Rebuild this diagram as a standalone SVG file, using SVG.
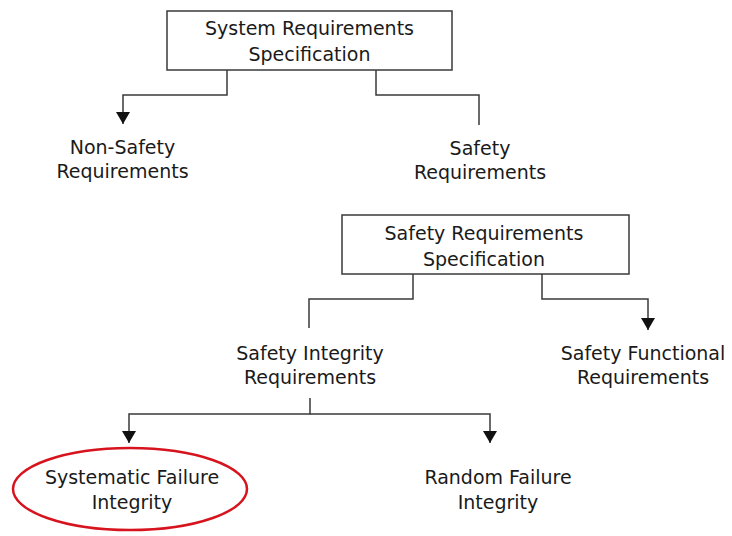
<svg xmlns="http://www.w3.org/2000/svg" width="732" height="536" viewBox="0 0 732 536">
  <style>
    .box { fill: #ffffff; stroke: #3a3a3a; stroke-width: 1.5; }
    .conn { fill: none; stroke: #3a3a3a; stroke-width: 1.5; }
    .lbl { font-family: "DejaVu Sans", "Liberation Sans", sans-serif; font-size: 19px; fill: #1a1a1a; text-anchor: middle; }
    .hl { fill: none; stroke: #d7141e; stroke-width: 2.5; }
  </style>
  <defs>
    <marker id="arrow" viewBox="0 0 12 14" refX="12" refY="7" markerWidth="12" markerHeight="14" markerUnits="userSpaceOnUse" orient="auto">
      <path d="M0,0 L12,7 L0,14 z" fill="#111111"/>
    </marker>
  </defs>
  <rect width="732" height="536" fill="#ffffff"/>

  <g id="connectors">
    <path class="conn" d="M227,70 V95 H123 V124" marker-end="url(#arrow)"/>
    <path class="conn" d="M376,70 V95 H479 V125"/>
    <path class="conn" d="M413,274 V299 H309 V328"/>
    <path class="conn" d="M542,274 V299 H648 V330" marker-end="url(#arrow)"/>
    <path class="conn" d="M310,398 V414 H129 V443" marker-end="url(#arrow)"/>
    <path class="conn" d="M310,414 H490 V443" marker-end="url(#arrow)"/>
  </g>

  <g id="system-requirements-specification">
    <rect class="box" x="167" y="11" width="285" height="59"/>
    <text class="lbl" x="309.5" y="35">System Requirements</text>
    <text class="lbl" x="309.5" y="61">Specification</text>
  </g>

  <g id="non-safety-requirements">
    <text class="lbl" x="122.5" y="154">Non-Safety</text>
    <text class="lbl" x="122.5" y="178">Requirements</text>
  </g>

  <g id="safety-requirements">
    <text class="lbl" x="480" y="155">Safety</text>
    <text class="lbl" x="480" y="179">Requirements</text>
  </g>

  <g id="safety-requirements-specification">
    <rect class="box" x="342" y="215" width="287" height="59"/>
    <text class="lbl" x="484" y="240">Safety Requirements</text>
    <text class="lbl" x="484" y="266">Specification</text>
  </g>

  <g id="safety-integrity-requirements">
    <text class="lbl" x="310" y="360">Safety Integrity</text>
    <text class="lbl" x="310" y="384">Requirements</text>
  </g>

  <g id="safety-functional-requirements">
    <text class="lbl" x="643" y="360">Safety Functional</text>
    <text class="lbl" x="643" y="384">Requirements</text>
  </g>

  <g id="systematic-failure-integrity">
    <ellipse class="hl" cx="130" cy="489" rx="117" ry="41"/>
    <text class="lbl" x="132" y="484">Systematic Failure</text>
    <text class="lbl" x="132" y="509">Integrity</text>
  </g>

  <g id="random-failure-integrity">
    <text class="lbl" x="498" y="484">Random Failure</text>
    <text class="lbl" x="498" y="509">Integrity</text>
  </g>
</svg>
